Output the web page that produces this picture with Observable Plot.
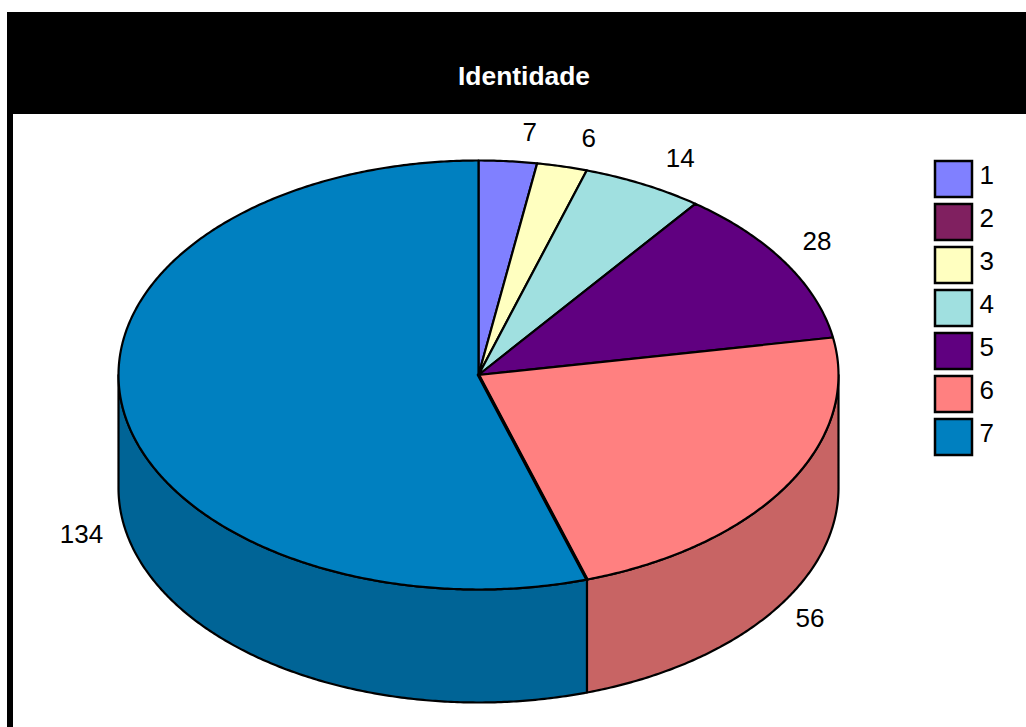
<!DOCTYPE html>
<html>
<head>
<meta charset="utf-8">
<script src="https://cdn.jsdelivr.net/npm/d3@7"></script>
<script src="https://cdn.jsdelivr.net/npm/@observablehq/plot@0.6"></script>
<style>
  html, body { margin: 0; padding: 0; background: #fff; overflow: hidden; }
  body { font-family: "Liberation Sans", Arial, sans-serif; }
  #page { position: absolute; left: 7px; top: 12px; right: 0; bottom: 0; }
  #title { position: relative; height: 102px; background: #000; }
  #title span { position: absolute; left: 517px; top: 64px; transform: translate(-50%, -50%);
    color: #fff; font-weight: bold; font-size: 26.4px; white-space: nowrap; }
  #body { position: relative; border-left: 6px solid #000; height: 613px; }
  #body svg { display: block; overflow: visible; }
  #key { position: absolute; left: 922px; top: 42.5px; }
</style>
</head>
<body>
<div id="page">
  <div id="title"><span>Identidade</span></div>
  <div id="body"><div id="pie"></div><div id="key"></div></div>
</div>
<script>
// Responses per answer option
const categories = ["1", "2", "3", "4", "5", "6", "7"];
const counts = [7, 0, 6, 14, 28, 56, 134];
const topColors = ["#8080FF", "#802060", "#FFFFC0", "#A0E0E0", "#600080", "#FF8080", "#0080C0"];
const sideColors = ["#6464C8", "#641A4B", "#C8C896", "#7DAFAF", "#4B0064", "#C86464", "#006496"];

// Text placement relative to the rim point at each slice's middle angle
const labelNudge = {
  "1": [19, -29], "3": [19, -29], "4": [25, -29],
  "5": [26, -27], "6": [26, 17], "7": [-41, 15]
};

// Pie geometry inside the plot frame, in pixels
const W = 1013, H = 613, CX = 465, CY = 260.5, RX = 360, RY = 214.5, DEPTH = 113;
const thickness = DEPTH / RY;

// Foreshortening of the tilted disc: the far half reads slightly narrower than the near half
const view = (a) => {
  const stretch = Math.cos(a) > 0 ? 0.91 : 1.04;
  const t = Math.atan2(stretch * Math.sin(a), Math.cos(a));
  return t < 0 ? t + 2 * Math.PI : t;
};

const total = d3.sum(counts);
const cumulative = d3.cumsum(counts);
const slices = categories.map((category, i) => {
  const start = ((cumulative[i] - counts[i]) / total) * 2 * Math.PI;
  const end = (cumulative[i] / total) * 2 * Math.PI;
  return {
    category,
    value: counts[i],
    mid: (start + end) / 2,
    a0: view(start),
    a1: i === counts.length - 1 ? 2 * Math.PI : view(end),
    side: sideColors[i]
  };
}).filter((s) => s.value > 0);

const rim = (a, drop = 0) => ({ x: Math.sin(a), y: Math.cos(a) - drop });
const arc = (a0, a1) => {
  const n = Math.max(2, Math.ceil((a1 - a0) / (Math.PI / 360)));
  return d3.range(n + 1).map((k) => a0 + ((a1 - a0) * k) / n);
};

// Top faces: centre, then along the arc, then back to the centre
const topFaces = slices.flatMap((s) =>
  [{ x: 0, y: 0 }, ...arc(s.a0, s.a1).map((a) => rim(a)), { x: 0, y: 0 }]
    .map((p) => ({ ...p, category: s.category }))
);

// Side walls: only the part of each slice on the near half of the disc shows
const sideWalls = slices
  .map((s) => ({ ...s, from: Math.max(s.a0, Math.PI / 2), to: Math.min(s.a1, (3 * Math.PI) / 2) }))
  .filter((s) => s.to > s.from)
  .map((s) => {
    const along = arc(s.from, s.to);
    const upper = along.map((a) => rim(a));
    const lower = along.slice().reverse().map((a) => rim(a, thickness));
    return { fill: s.side, points: [...upper, ...lower, upper[0]] };
  });

// The edge shared by the two largest slices, drawn a little heavier
const heavyEdge = [{ x: 0, y: 0 }, rim(slices[slices.length - 1].a0)];

// Value labels hang off the rim at each slice's middle angle
const labelMarks = slices.map((s) => {
  const near = Math.cos(s.mid) < 0;
  const [dx, dy] = labelNudge[s.category];
  return Plot.text([{ ...rim(s.mid, near ? thickness : 0), text: String(s.value) }], {
    x: "x", y: "y", text: "text", dx, dy,
    fontSize: 26, fill: "#000", textAnchor: "middle", lineAnchor: "middle"
  });
});

const colorScale = { domain: categories, range: topColors };

const pie = Plot.plot({
  width: W,
  height: H,
  margin: 0,
  style: { fontFamily: '"Liberation Sans", Arial, sans-serif', background: "transparent" },
  x: { axis: null, domain: [-CX / RX, (W - CX) / RX], range: [0, W] },
  y: { axis: null, domain: [(CY - H) / RY, CY / RY], range: [H, 0] },
  color: colorScale,
  marks: [
    ...sideWalls.map((w) =>
      Plot.line(w.points, { x: "x", y: "y", fill: w.fill, stroke: "#000", strokeWidth: 2.2, curve: "linear" })
    ),
    Plot.line(topFaces, {
      x: "x", y: "y", z: "category", fill: "category",
      stroke: "#000", strokeWidth: 2.2, curve: "linear"
    }),
    Plot.line(heavyEdge, { x: "x", y: "y", stroke: "#000", strokeWidth: 3.5, curve: "linear" }),
    ...labelMarks
  ]
});
document.getElementById("pie").append(pie);

const key = Plot.plot({
  width: 87,
  height: 301,
  marginTop: 0, marginBottom: 0, marginLeft: 0, marginRight: 50,
  style: { fontFamily: '"Liberation Sans", Arial, sans-serif', background: "transparent" },
  y: { domain: categories, type: "band", paddingInner: 7 / 43, paddingOuter: 3.5 / 43, label: null },
  color: colorScale,
  marks: [
    Plot.cell(categories, { y: (d) => d, fill: (d) => d, stroke: "#000", strokeWidth: 2.5 }),
    Plot.axisY({ anchor: "right", tickSize: 0, tickPadding: 7, dy: -4, fontSize: 26, label: null, fill: "#000", color: "#000" })
  ]
});
document.getElementById("key").append(key);
</script>
</body>
</html>
